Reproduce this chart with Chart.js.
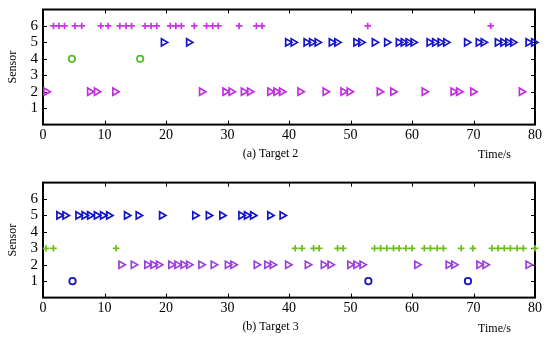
<!DOCTYPE html>
<html>
<head>
<meta charset="utf-8">
<script src="https://cdn.jsdelivr.net/npm/chart.js@4"></script>
<style>
  html, body { margin: 0; padding: 0; background: #fff; }
  canvas { display: block; }
</style>
</head>
<body>
<canvas id="chartA" width="550" height="170"></canvas>
<canvas id="chartB" width="550" height="171"></canvas>
<script>
// axis ticks
const xTicks = [0, 10, 20, 30, 40, 50, 60, 70, 80];
const yTicks = [1, 2, 3, 4, 5, 6];

// (a) Target 2 - detection times (s) per sensor
const t2Sensor6 = [1.7, 2.6, 3.5, 5.2, 6.3, 9.4, 10.6, 12.5, 13.5, 14.4, 16.6, 17.6, 18.5,
  20.7, 21.6, 22.5, 24.6, 26.6, 27.6, 28.5, 31.9, 34.7, 35.6, 52.8, 72.8];
const t2Sensor5 = [19.6, 23.7, 39.8, 40.7, 42.8, 43.7, 44.6, 46.9, 47.8, 50.9, 51.7, 53.9, 55.9,
  57.8, 58.6, 59.4, 60.2, 62.8, 63.7, 64.6, 65.5, 68.9, 70.8, 71.6, 73.9, 74.8, 75.6, 76.4, 78.9, 79.8];
const t2Sensor4 = [4.7, 15.8];
const t2Sensor2 = [0.5, 7.6, 8.7, 11.7, 25.8, 29.6, 30.6, 32.6, 33.6, 36.9, 37.9, 38.8,
  41.8, 45.9, 48.8, 49.8, 54.7, 56.9, 62.0, 66.7, 67.6, 69.9, 77.8];

// (b) Target 3
const t3Sensor5 = [2.6, 3.6, 5.7, 6.7, 7.6, 8.7, 9.7, 10.7, 13.6, 15.5, 19.3, 24.7, 26.9, 29.1,
  32.2, 33.1, 34.1, 36.9, 38.9];
const t3Sensor3 = [0.5, 1.7, 11.9, 41.0, 42.1, 44.0, 44.9, 47.9, 48.8, 53.9, 54.9, 55.9, 57.0,
  57.9, 59.0, 60.0, 62.0, 63.0, 64.1, 65.1, 68.0, 69.9, 73.0, 74.0, 75.0, 76.0, 77.1, 78.1, 80.0];
const t3Sensor2 = [12.7, 14.7, 16.9, 17.9, 18.8, 20.8, 21.8, 22.8, 23.7, 25.7, 27.7, 30.0, 30.9,
  34.7, 36.4, 37.3, 39.8, 43.0, 45.6, 46.7, 49.9, 50.9, 51.9, 60.8, 65.9, 66.8, 70.9, 71.9, 78.9];
const t3Sensor1 = [4.8, 52.9, 69.1];

const serif = "'Liberation Serif', 'DejaVu Serif', serif";

function row(xs, y) {
  return xs.map((x) => ({ x, y }));
}

function plus(data, color) {
  return { data, pointStyle: "cross", pointRadius: 3.3, pointBorderWidth: 1.7,
    borderColor: color, backgroundColor: color, clip: false };
}
function tri(data, color) {
  return { data, pointStyle: "triangle", pointRotation: 90, pointRadius: 4.2, pointBorderWidth: 1.7,
    borderColor: color, backgroundColor: "rgba(0,0,0,0)", clip: false };
}
function ring(data, color) {
  return { data, pointStyle: "circle", pointRadius: 3.2, pointBorderWidth: 1.8,
    borderColor: color, backgroundColor: "rgba(0,0,0,0)", clip: false };
}

// box round the plot with inner tick marks, plus the "Time/s" note
const frame = {
  id: "frame",
  beforeDatasetsDraw(chart) {
    const { ctx, chartArea: a, scales } = chart;
    ctx.save();
    ctx.strokeStyle = "#000";
    ctx.lineWidth = 1;
    ctx.beginPath();
    xTicks.forEach((v) => {
      const px = Math.round(scales.x.getPixelForValue(v)) + 0.5;
      ctx.moveTo(px, a.bottom); ctx.lineTo(px, a.bottom - 4);
      ctx.moveTo(px, a.top); ctx.lineTo(px, a.top + 4);
    });
    yTicks.forEach((v) => {
      const py = Math.round(scales.y.getPixelForValue(v)) + 0.5;
      ctx.moveTo(a.left, py); ctx.lineTo(a.left + 4, py);
      ctx.moveTo(a.right, py); ctx.lineTo(a.right - 4, py);
    });
    ctx.stroke();
    ctx.lineWidth = 2;
    ctx.strokeRect(a.left, a.top, a.right - a.left, a.bottom - a.top);
    ctx.restore();
  },
  afterDraw(chart, args, opts) {
    const { ctx, chartArea: a } = chart;
    ctx.save();
    ctx.fillStyle = "#000";
    ctx.font = "12px " + serif;
    ctx.textAlign = "right";
    ctx.textBaseline = "middle";
    ctx.fillText("Time/s", a.right - 24, opts.noteY);
    ctx.restore();
  }
};

function makeChart(id, datasets, title, top, bottomGap, noteY) {
  return new Chart(document.getElementById(id), {
    type: "scatter",
    data: { datasets },
    plugins: [frame],
    options: {
      responsive: false,
      animation: false,
      layout: { padding: { left: 6, right: 15, top, bottom: 0 } },
      plugins: {
        legend: { display: false },
        tooltip: { enabled: false },
        title: {
          display: true, position: "bottom", text: title, color: "#000",
          font: { family: serif, size: 12, weight: "normal" },
          padding: { top: 0, bottom: bottomGap }
        },
        frame: { noteY }
      },
      scales: {
        x: {
          type: "linear", min: 0, max: 80,
          afterBuildTicks: (s) => { s.ticks = xTicks.map((v) => ({ value: v })); },
          ticks: { color: "#000", font: { family: serif, size: 14 }, padding: 2, maxRotation: 0 },
          grid: { display: false, drawTicks: false },
          border: { display: false },
          afterFit: (s) => { s.height = 22; }
        },
        y: {
          type: "linear", min: 0, max: 7,
          afterBuildTicks: (s) => { s.ticks = yTicks.map((v) => ({ value: v })); },
          ticks: { color: "#000", font: { family: serif, size: 15, lineHeight: 0.6 }, padding: 5 },
          grid: { display: false, drawTicks: false },
          border: { display: false },
          title: { display: true, text: "Sensor", color: "#000", font: { family: serif, size: 12 }, padding: 0 },
          afterFit: (s) => { s.width = 37; }
        }
      }
    }
  });
}

makeChart("chartA", [
  plus(row(t2Sensor6, 6), "#cc33e6"),
  tri(row(t2Sensor5, 5), "#1414c8"),
  ring(row(t2Sensor4, 4), "#5cb82e"),
  tri(row(t2Sensor2, 2), "#c032dc")
], "(a) Target 2", 9, 9, 155);

makeChart("chartB", [
  tri(row(t3Sensor5, 5), "#1414c8"),
  plus(row(t3Sensor3, 3), "#6cbf1c"),
  tri(row(t3Sensor2, 2), "#9a3ee0"),
  ring(row(t3Sensor1, 1), "#1414c8")
], "(b) Target 3", 12.6, 7, 159);
</script>
</body>
</html>
